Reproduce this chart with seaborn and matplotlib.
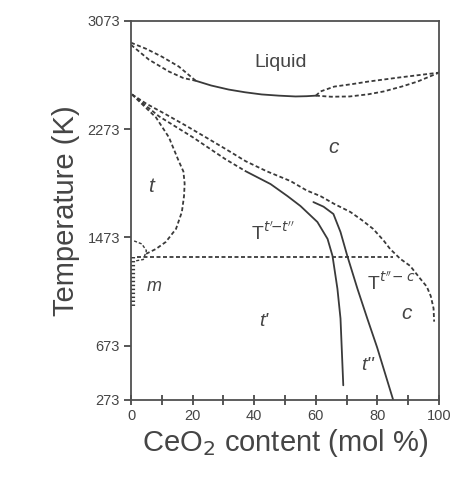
import matplotlib
matplotlib.use("Agg")
import matplotlib.pyplot as plt
import seaborn as sns

# ---------------- data (x = CeO2 mol %, T = K) ----------------
x_ticks = [0, 20, 40, 60, 80, 100]
x_minor = [10, 30, 50, 70, 90]
y_ticks = [273, 673, 1473, 2273, 3073]

# liquidus / solidus, ZrO2-rich lens
liqL_up_x = [0, 5, 10, 15.5, 21]
liqL_up_T = [2911, 2865, 2808, 2735, 2630]
liqL_lo_x = [0, 5.8, 12.3, 17, 21]
liqL_lo_T = [2895, 2786, 2698, 2650, 2630]
# liquidus solid part
liqM_x = [21, 26, 31.7, 37, 42.4, 48, 53.4, 57, 60]
liqM_T = [2630, 2595, 2565, 2545, 2529, 2520, 2514, 2516, 2520]
# CeO2-rich lens
liqR_up_x = [60, 61.5, 66, 72, 77, 87, 100]
liqR_up_T = [2520, 2551, 2587, 2606, 2624, 2654, 2690]
liqR_lo_x = [60, 65, 71, 77, 82, 88, 93, 100]
liqR_lo_T = [2520, 2512, 2514, 2530, 2551, 2588, 2624, 2690]

# outer dashed boundary (t / c region)
outer_x = [0.3, 5, 11.3, 18, 24.3, 31, 37.2, 44, 51.8, 57, 61.5, 66, 71.2, 75, 78.6, 82, 84.1, 87.4, 90.6, 93.9, 96, 97.3, 98.2, 98.4]
outer_T = [2529, 2460, 2382, 2296, 2212, 2122, 2036, 1962, 1889, 1820, 1778, 1720, 1661, 1600, 1536, 1450, 1388, 1315, 1263, 1168, 1110, 1040, 950, 851]

# inner boundary: dashed part then solid T(t'-t'')
innerD_x = [0.3, 9.1, 20.1, 30.7, 37.2]
innerD_T = [2529, 2367, 2212, 2050, 1962]
innerS_x = [37.2, 45.3, 50.8, 55.0, 60.5, 63.8, 65.4, 67.0, 68.0, 68.9]
innerS_T = [1962, 1867, 1778, 1705, 1587, 1462, 1337, 1094, 874, 381]

# T(t''-c) solid line
tcs_x = [59.2, 62.5, 65.7, 68.0, 70.2, 73.5, 76.7, 79.9, 85.1]
tcs_T = [1734, 1700, 1646, 1513, 1337, 1094, 874, 660, 273]

# t / t+m dashed curve
tm_x = [0.3, 8.1, 12.3, 15.5, 17.0, 17.4, 17.2, 16.5, 14.6, 11.3, 8.1, 4.9]
tm_T = [2529, 2359, 2212, 2036, 1960, 1870, 1778, 1661, 1536, 1440, 1388, 1352]

# small loop near ZrO2 side
loop_x = [1.0, 3.5, 5.0, 4.0, 1.5]
loop_T = [1447, 1425, 1375, 1310, 1300]

# eutectoid horizontal
hor_x = [2, 85]
hor_T = [1330, 1330]

# monoclinic boundary (dotted)
m_x = [0.6, 0.6]
m_T = [1330, 969]

# ---------------- plot ----------------
sns.set_style("ticks")
plt.rcParams['font.family'] = ['Liberation Sans', 'DejaVu Sans']
C = '#3a3a3a'
TXT = '#454545'

fig = plt.figure(figsize=(4.55, 4.83), dpi=100)
ax = fig.add_axes([0.288, 0.172, 0.677, 0.785])

DASH = (0, (2.2, 1.4))

def draw(x, y, ls='-', lw=1.3):
    sns.lineplot(x=x, y=y, ax=ax, color=C, linestyle=ls, linewidth=lw,
                 sort=False, estimator=None, legend=False)

draw(liqL_up_x, liqL_up_T, DASH)
draw(liqL_lo_x, liqL_lo_T, DASH)
draw(liqM_x, liqM_T, '-')
draw(liqR_up_x, liqR_up_T, DASH)
draw(liqR_lo_x, liqR_lo_T, DASH)
draw(outer_x, outer_T, DASH)
draw(innerD_x, innerD_T, DASH)
draw(innerS_x, innerS_T, '-')
draw(tcs_x, tcs_T, '-')
draw(tm_x, tm_T, DASH)
draw(loop_x, loop_T, DASH, 1.0)
draw(hor_x, hor_T, DASH)
draw(m_x, m_T, (0, (0.35, 0.6)), 3.0)

ax.set_xlim(0, 100)
ax.set_ylim(273, 3073)
ax.set_xticks(x_ticks)
ax.set_xticks(x_minor, minor=True)
ax.set_yticks(y_ticks)
ax.set_xticklabels([str(v) for v in x_ticks])
ax.set_yticklabels([str(v) for v in y_ticks])
ax.tick_params(axis='x', which='both', direction='inout', length=7, width=1.2,
               colors=C, labelsize=10.5, labelcolor=TXT, pad=3)
ax.tick_params(axis='y', direction='out', length=5, width=1.2,
               colors=C, labelsize=10.5, labelcolor=TXT, pad=3)
for s in ax.spines.values():
    s.set_visible(True)
    s.set_color('#505050')
    s.set_linewidth(1.3)

ax.set_xlabel('CeO$_2$ content (mol %)', fontsize=21, color=TXT, labelpad=3)
ax.set_ylabel('Temperature (K)', fontsize=21, color=TXT, labelpad=5)

ax.text(48.5, 2764, 'Liquid', fontsize=14, color=TXT, ha='center', va='center')
ax.text(65.7, 2139, 'c', fontsize=15, color=TXT, ha='center', va='center', style='italic')
ax.text(6.5, 1852, 't', fontsize=15, color=TXT, ha='center', va='center', style='italic')
ax.text(7.4, 1109, 'm', fontsize=13, color=TXT, ha='center', va='center', style='italic')
ax.text(43, 851, "t'", fontsize=14, color=TXT, ha='center', va='center', style='italic')
ax.text(76.7, 528, "t''", fontsize=14, color=TXT, ha='center', va='center', style='italic')
ax.text(89.6, 910, 'c', fontsize=15, color=TXT, ha='center', va='center', style='italic')
ax.text(46, 1510, r"T$^{t'\!\mathrm{-}t''}$", fontsize=14, color=TXT, ha='center', va='center')
ax.text(84.5, 1140, r"T$^{t''\mathrm{-}\ c}$", fontsize=14, color=TXT, ha='center', va='center')

fig.savefig('out.png', dpi=100, facecolor='white')
